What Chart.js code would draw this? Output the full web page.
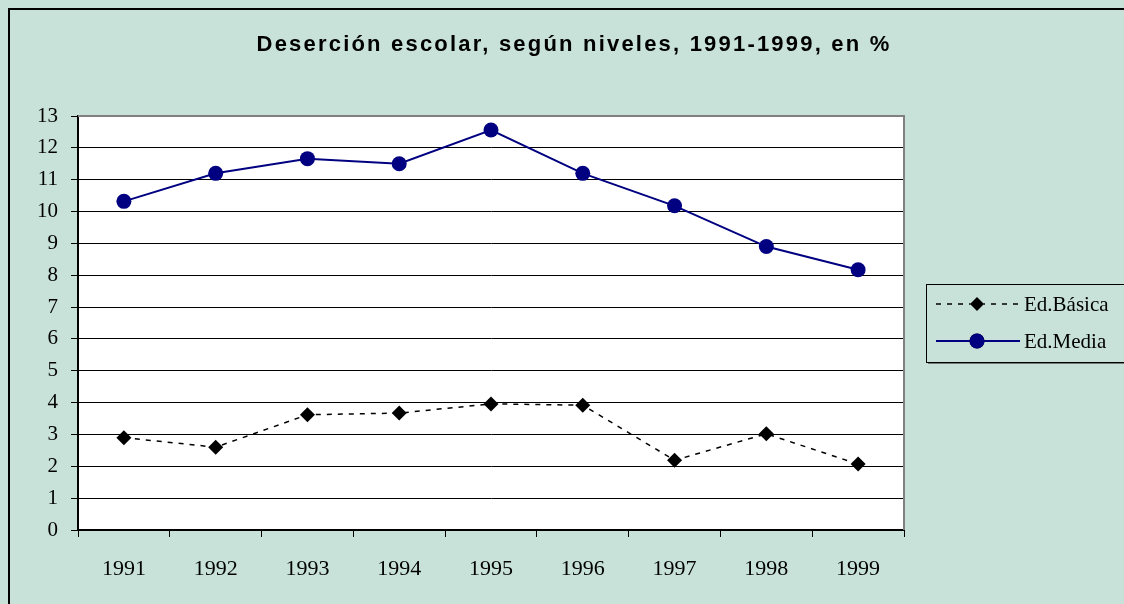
<!DOCTYPE html>
<html>
<head>
<meta charset="utf-8">
<script src="https://cdn.jsdelivr.net/npm/chart.js@4"></script>
<style>
  html, body { margin: 0; padding: 0; background: #c8e2da; }
  #wrap { width: 1124px; height: 604px; }
</style>
</head>
<body>
<div id="wrap"><canvas id="chart" width="1124" height="604"></canvas></div>
<script>
const years = ["1991", "1992", "1993", "1994", "1995", "1996", "1997", "1998", "1999"];
const basica = [2.9, 2.6, 3.62, 3.67, 3.96, 3.92, 2.19, 3.02, 2.07];
const media = [10.32, 11.2, 11.66, 11.5, 12.56, 11.2, 10.18, 8.9, 8.17];
const yTicks = [0, 1, 2, 3, 4, 5, 6, 7, 8, 9, 10, 11, 12, 13];
const titleText = "Deserción escolar, según niveles, 1991-1999, en %";

// background, frame, plot area, title and legend box
const frame = {
    id: "frame",
    beforeDraw(chart) {
        const ctx = chart.ctx;
        const a = chart.chartArea;
        ctx.save();
        ctx.fillStyle = "#c8e2da";
        ctx.fillRect(0, 0, chart.width, chart.height);
        ctx.strokeStyle = "#000";
        ctx.lineWidth = 2;
        ctx.strokeRect(9, 9, chart.width + 20, chart.height + 20);
        ctx.fillStyle = "#fff";
        ctx.fillRect(a.left, a.top, a.right - a.left, a.bottom - a.top);
        ctx.restore();
    },
    afterDraw(chart) {
        const ctx = chart.ctx;
        const a = chart.chartArea;
        ctx.save();
        // grey border top/right of plot
        ctx.strokeStyle = "#808080";
        ctx.lineWidth = 2;
        ctx.beginPath();
        ctx.moveTo(a.left, a.top);
        ctx.lineTo(a.right, a.top);
        ctx.lineTo(a.right, a.bottom);
        ctx.stroke();

        // title
        ctx.fillStyle = "#000";
        ctx.font = "bold 22px 'Liberation Sans', Arial, sans-serif";
        ctx.letterSpacing = "2.2px";
        ctx.textAlign = "center";
        ctx.textBaseline = "middle";
        ctx.fillText(titleText, 574, 45);
        ctx.letterSpacing = "0px";

        // legend
        const lx = 926, ly = 284, lw = 220, lh = 78;
        ctx.fillStyle = "rgba(0,0,0,0.45)";
        ctx.fillRect(lx + 2, ly + 2, lw, lh);
        ctx.fillStyle = "#c8e2da";
        ctx.fillRect(lx, ly, lw, lh);
        ctx.strokeStyle = "#000";
        ctx.lineWidth = 1;
        ctx.strokeRect(lx + 0.5, ly + 0.5, lw, lh);
        const rows = [ly + 20, ly + 57];
        chart.data.datasets.forEach((ds, i) => {
            const y = rows[i];
            ctx.strokeStyle = ds.borderColor;
            ctx.lineWidth = ds.borderWidth;
            ctx.setLineDash(ds.borderDash || []);
            ctx.beginPath();
            ctx.moveTo(936, y);
            ctx.lineTo(1020, y);
            ctx.stroke();
            ctx.setLineDash([]);
            Chart.helpers.drawPoint(ctx, {
                pointStyle: ds.pointStyle,
                radius: ds.legendRadius,
                borderWidth: 0
            }, 977, y);
            ctx.fillStyle = ds.pointBackgroundColor;
            ctx.fill();
            ctx.fillStyle = "#000";
            ctx.font = "21px 'Liberation Serif', 'Times New Roman', serif";
            ctx.textAlign = "left";
            ctx.fillText(ds.label, 1024, y + 1);
        });
        ctx.restore();
    }
};

new Chart(document.getElementById("chart"), {
    type: "line",
    data: {
        labels: years,
        datasets: [{
            label: "Ed.Básica",
            data: basica,
            borderColor: "#000",
            borderWidth: 1.5,
            borderDash: [5, 6],
            pointStyle: "rectRot",
            pointRadius: 7.5,
            legendRadius: 7,
            pointBackgroundColor: "#000",
            pointBorderColor: "#000",
            pointBorderWidth: 0,
            tension: 0
        }, {
            label: "Ed.Media",
            data: media,
            borderColor: "#000080",
            borderWidth: 2,
            pointStyle: "circle",
            pointRadius: 7.5,
            legendRadius: 7.5,
            pointBackgroundColor: "#000080",
            pointBorderColor: "#000080",
            pointBorderWidth: 0,
            tension: 0
        }]
    },
    options: {
        responsive: false,
        animation: false,
        layout: { padding: { left: 10, top: 116, right: 220, bottom: 0 } },
        plugins: {
            legend: { display: false },
            title: { display: false },
            tooltip: { enabled: false }
        },
        scales: {
            x: {
                offset: true,
                grid: {
                    offset: true,
                    drawOnChartArea: false,
                    color: "#000",
                    tickLength: 7,
                    tickWidth: 1
                },
                border: { color: "#000", width: 2 },
                ticks: {
                    color: "#000",
                    padding: 19,
                    maxRotation: 0,
                    font: { family: "'Liberation Serif', 'Times New Roman', serif", size: 22 }
                },
                afterFit(scale) { scale.height = 74; }
            },
            y: {
                min: 0,
                max: 13,
                afterBuildTicks(scale) { scale.ticks = yTicks.map(v => ({ value: v })); },
                grid: {
                    color: "#000",
                    lineWidth: 1,
                    tickLength: 7,
                    drawTicks: true
                },
                border: { color: "#000", width: 2 },
                ticks: {
                    color: "#000",
                    padding: 13,
                    font: { family: "'Liberation Serif', 'Times New Roman', serif", size: 21 }
                },
                afterFit(scale) { scale.width = 68; }
            }
        }
    },
    plugins: [frame]
});
</script>
</body>
</html>
